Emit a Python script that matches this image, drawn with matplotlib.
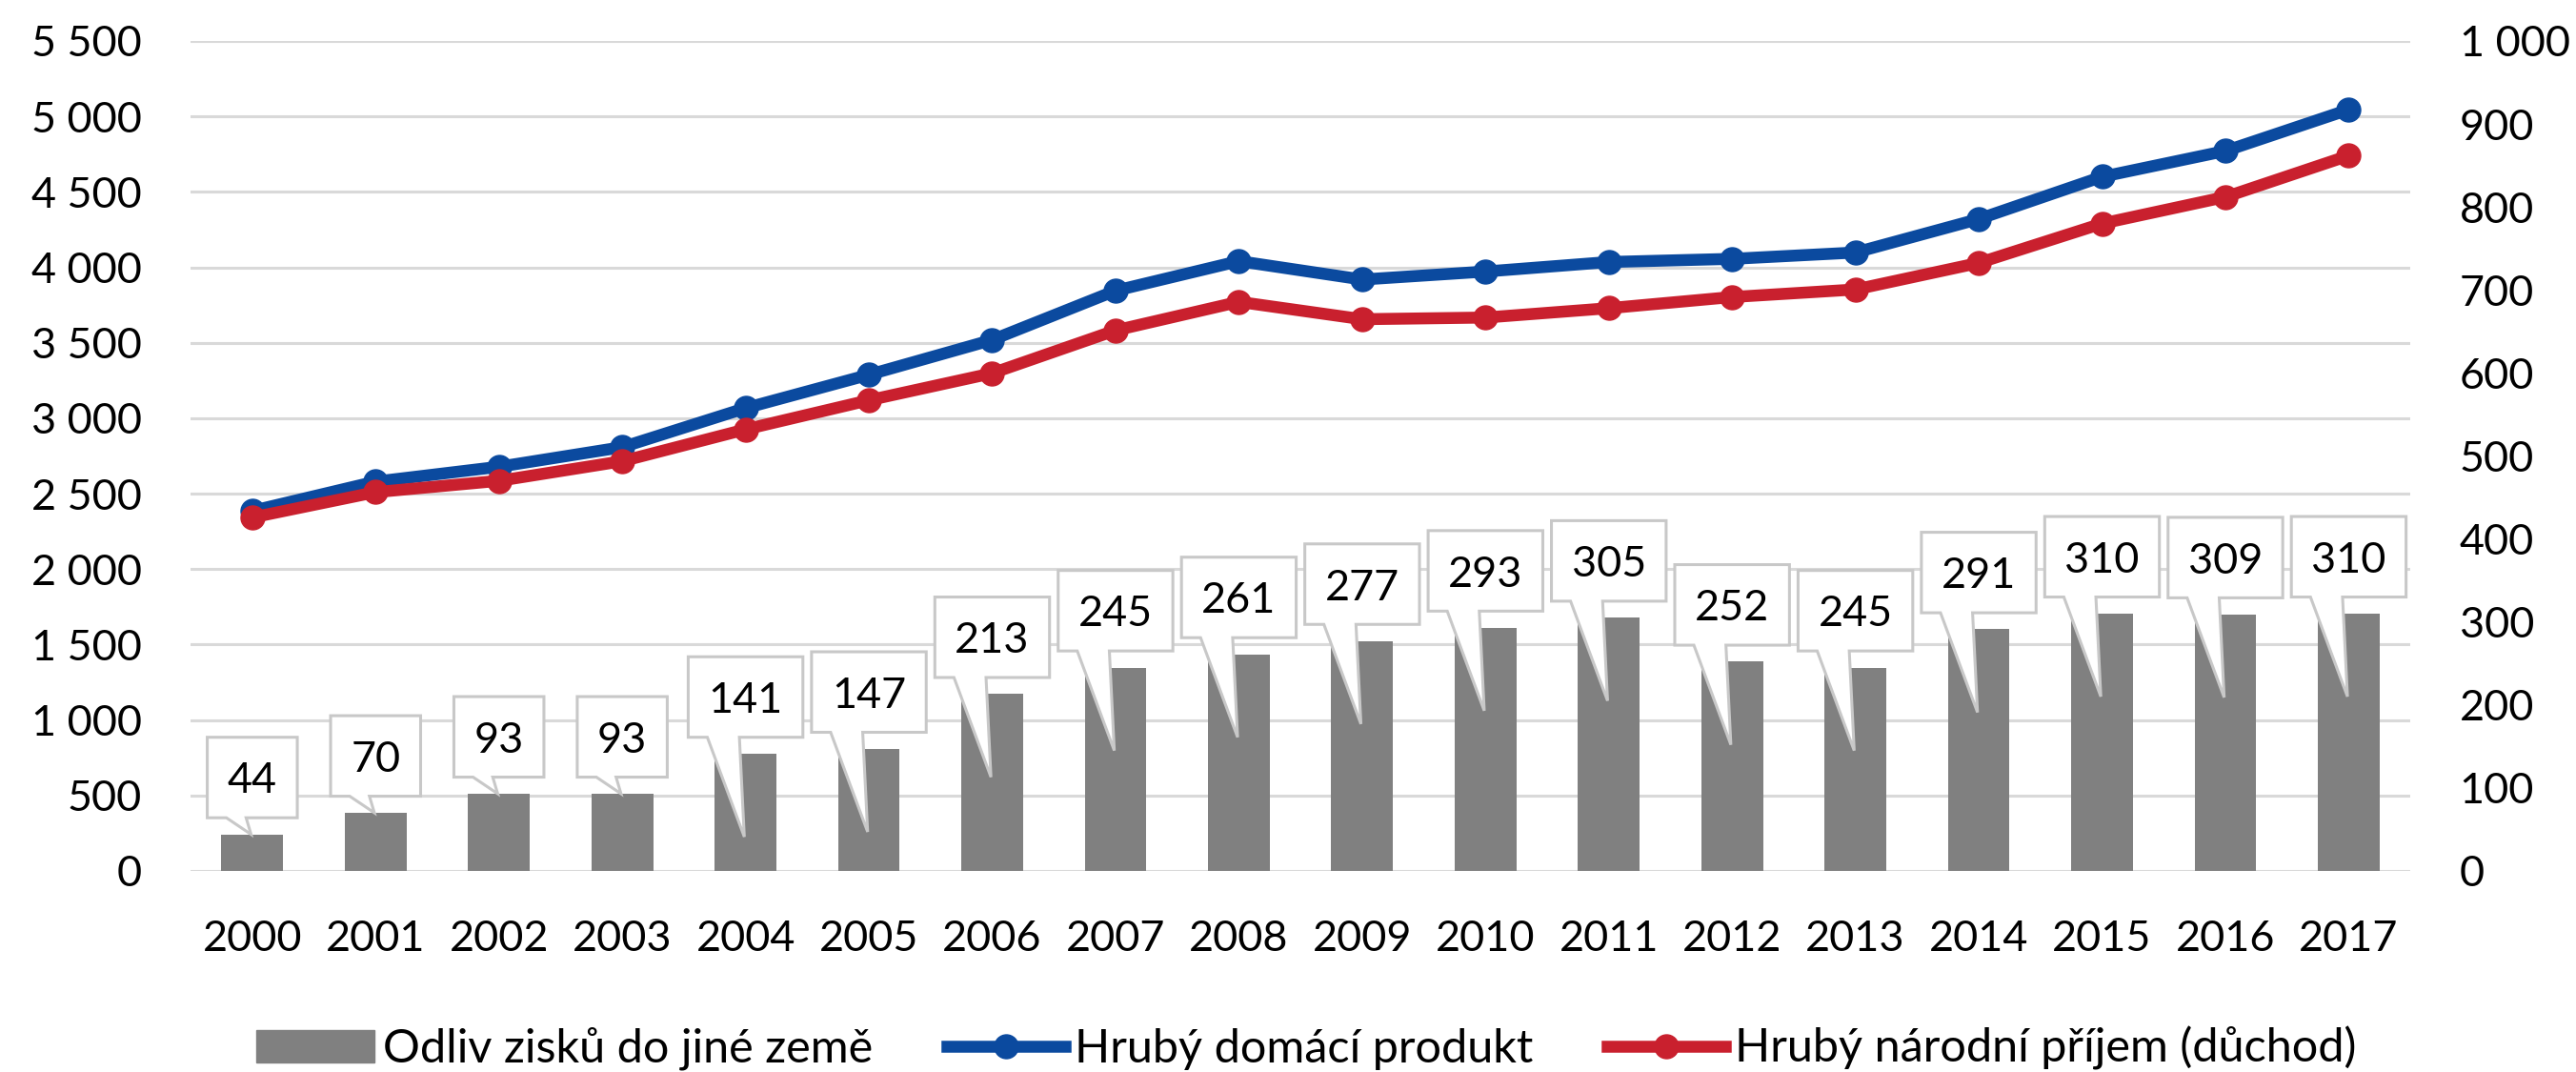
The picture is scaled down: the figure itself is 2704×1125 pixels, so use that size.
import numpy as np
import matplotlib.pyplot as plt
from matplotlib.patches import Polygon, Patch
from matplotlib.lines import Line2D
from matplotlib.ticker import FuncFormatter, MultipleLocator

plt.rcParams['font.family'] = ['Lato', 'DejaVu Sans']

years = [str(y) for y in range(2000, 2018)]
outflow = [44, 70, 93, 93, 141, 147, 213, 245, 261, 277, 293, 305, 252, 245, 291, 310, 309, 310]
gdp = [2386, 2580, 2678, 2808, 3067, 3288, 3519, 3845, 4041, 3919, 3972, 4035, 4056, 4098, 4320, 4600, 4771, 5045]
gni = [2342, 2510, 2585, 2715, 2926, 3119, 3298, 3582, 3771, 3656, 3667, 3729, 3803, 3853, 4029, 4290, 4466, 4740]

series_labels = ['Odliv zisků do jiné země', 'Hrubý domácí produkt', 'Hrubý národní příjem (důchod)']

blue = '#0b4a9f'
red = '#c9202e'
gray = '#808080'
fs = 32.4

fig = plt.figure(figsize=(27.04, 11.25), dpi=100)
ax = fig.add_axes([0.0740, 0.1876, 0.8617, 0.7742])
ax2 = ax.twinx()
x = np.arange(len(years))

# bars + callouts on the right axis
ax2.bar(x, outflow, width=0.5, color=gray, zorder=2)
for i, v in enumerate(outflow):
    txt = str(v)
    w = 0.2 * len(txt) + 0.33
    bot = v + 20
    top = bot + 97
    tip = v - 100 if v > 100 else v
    L, R = i - w / 2, i + w / 2
    pts = [(L, top), (R, top), (R, bot), (i - 0.05, bot), (i - 0.01, tip),
           (L + 0.155, bot), (L, bot)]
    ax2.add_patch(Polygon(pts, closed=True, facecolor='white', edgecolor='#c8c8c8',
                          lw=2.2, zorder=3, joinstyle='miter'))
    ax2.text(i, (bot + top) / 2, txt, ha='center', va='center_baseline',
             fontsize=fs, color='black', zorder=4)

# lines on the left axis
ax.plot(x, gdp, color=blue, lw=9, marker='o', ms=18, zorder=3)
ax.plot(x, gni, color=red, lw=9, marker='o', ms=18, zorder=3)

fmt = FuncFormatter(lambda v, p: f'{int(v):,}'.replace(',', ' '))
ax.set_ylim(0, 5500)
ax.yaxis.set_major_locator(MultipleLocator(500))
ax.yaxis.set_major_formatter(fmt)
ax2.set_ylim(0, 1000)
ax2.yaxis.set_major_locator(MultipleLocator(100))
ax2.yaxis.set_major_formatter(fmt)

ax.set_xlim(-0.5, len(years) - 0.5)
ax.set_xticks(x)
ax.set_xticklabels(years)

ax.yaxis.grid(True, color='#d9d9d9', lw=2.2)
ax.set_axisbelow(True)

for a in (ax, ax2):
    for s in a.spines.values():
        s.set_visible(False)
    a.tick_params(length=0, labelsize=fs, colors='black')
ax.tick_params(axis='x', pad=37)
ax.tick_params(axis='y', pad=37)
ax2.tick_params(axis='y', pad=37)

handles = [Patch(color=gray),
           Line2D([], [], color=blue, lw=9, marker='o', ms=18),
           Line2D([], [], color=red, lw=9, marker='o', ms=18)]
fig.legend(handles, series_labels, loc='center', bbox_to_anchor=(1371 / 2704, 1 - 1100 / 1125),
           ncol=3, frameon=False, fontsize=35, handlelength=2.55, handletextpad=0.2,
           columnspacing=1.6)

fig.savefig('out.png', dpi=100)
